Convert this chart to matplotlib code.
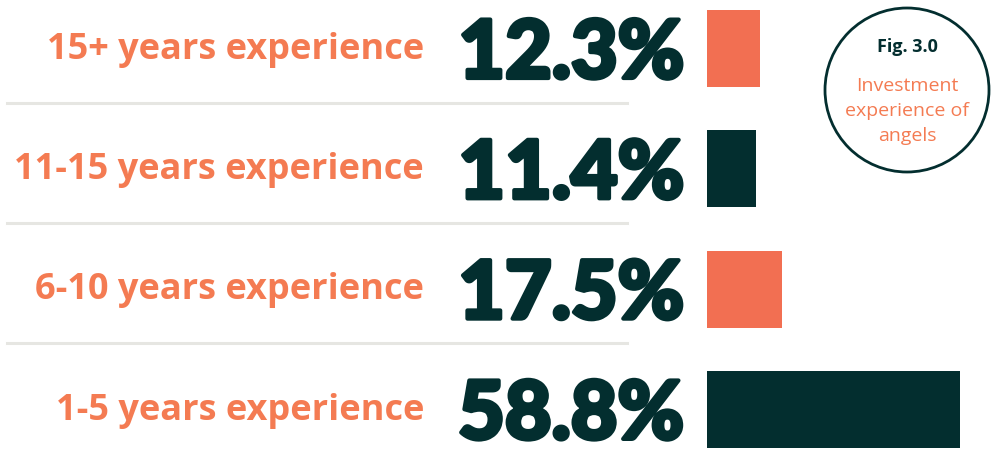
import matplotlib.pyplot as plt
import matplotlib.patheffects as pe
from matplotlib.patches import Circle
from matplotlib.lines import Line2D
from matplotlib.transforms import blended_transform_factory

categories = ['15+ years experience', '11-15 years experience',
              '6-10 years experience', '1-5 years experience']
values = [12.3, 11.4, 17.5, 58.8]
value_labels = ['12.3%', '11.4%', '17.5%', '58.8%']
bar_colors = ['#F26F52', '#032E2F', '#F26F52', '#032E2F']

fig_title = 'Fig. 3.0'
fig_subtitle = 'Investment\nexperience of\nangels'

orange = '#F47B52'
dark = '#032E2F'
W, H = 992, 454

fig = plt.figure(figsize=(W / 100, H / 100), dpi=100)
fig.patch.set_facecolor('white')

# bar axes: from x=707px to 960px, full height
ax = fig.add_axes([707 / W, 0, 253 / W, 1])
ax.set_xlim(0, max(values))
row_px = 120.3
top_px = 48.5
ax.set_ylim((H - top_px) / row_px, -top_px / row_px)
ax.axis('off')

ypos = list(range(len(categories)))
ax.barh(ypos, values, height=77 / row_px, color=bar_colors, left=0)

tr = blended_transform_factory(fig.transFigure, ax.transData)
heavy = [pe.withStroke(linewidth=3, foreground=dark)]
for i, (cat, lab) in enumerate(zip(categories, value_labels)):
    ax.text(424 / W, i + 0.01, cat, transform=tr, ha='right', va='center',
            fontsize=26, fontweight='bold', family='Open Sans', color=orange,
            clip_on=False)
    ax.text(684 / W, i + 0.05, lab, transform=tr, ha='right', va='center',
            fontsize=58, fontweight='black', family='Lato', color=dark,
            clip_on=False, path_effects=heavy)

# separators
for i in range(len(categories) - 1):
    ax.add_line(Line2D([7 / W, 627 / W], [i + 0.45, i + 0.45], transform=tr,
                       color='#E6E6E2', lw=2.2, clip_on=False))

# figure badge, drawn in inches so it stays round
circ = Circle((907 / 100, (H - 90) / 100), 0.82, transform=fig.dpi_scale_trans,
              fill=False, edgecolor=dark, lw=2)
fig.patches.append(circ)
fig.text(907 / W, 1 - 47 / H, fig_title, ha='center', va='center',
         fontsize=13, fontweight='bold', family='Open Sans', color=dark)
fig.text(907 / W, 1 - 111 / H, fig_subtitle, ha='center', va='center',
         fontsize=14, family='Open Sans', color=orange, linespacing=1.5)

fig.savefig('out.png', dpi=100)
